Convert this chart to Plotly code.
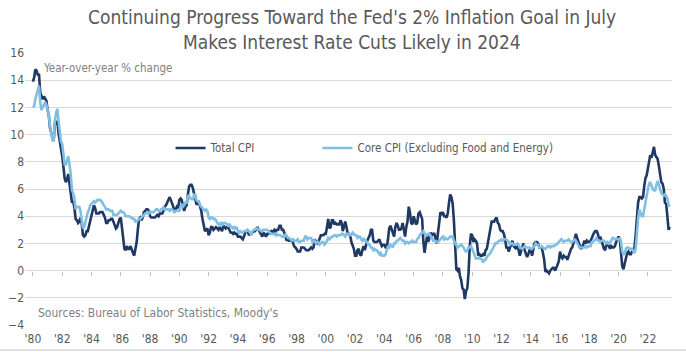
import plotly.graph_objects as go
import pandas as pd

# Year-over-year % change, monthly, Jan 1980 - Jul 2023
total_cpi = [
    13.9, 14.2, 14.8, 14.7, 14.4, 14.4, 13.1, 12.9, 12.6, 12.8, 12.6, 12.5,  # 1980
    11.8, 11.4, 10.5, 10.0, 9.8, 9.6, 10.8, 10.8, 11.0, 10.1, 9.6, 8.9,  # 1981
    8.4, 7.6, 6.8, 6.5, 6.7, 7.1, 6.4, 5.9, 5.0, 5.1, 4.6, 3.8,  # 1982
    3.7, 3.5, 3.6, 3.9, 3.5, 2.6, 2.5, 2.6, 2.9, 2.9, 3.3, 3.8,  # 1983
    4.2, 4.6, 4.8, 4.6, 4.2, 4.2, 4.2, 4.3, 4.3, 4.3, 4.1, 3.9,  # 1984
    3.5, 3.5, 3.7, 3.7, 3.8, 3.8, 3.6, 3.3, 3.1, 3.2, 3.5, 3.8,  # 1985
    3.9, 3.1, 2.2, 1.6, 1.5, 1.8, 1.6, 1.6, 1.8, 1.5, 1.3, 1.1,  # 1986
    1.5, 2.1, 3.0, 3.8, 3.9, 3.7, 3.9, 4.3, 4.4, 4.5, 4.5, 4.4,  # 1987
    4.0, 3.9, 3.9, 3.9, 3.9, 4.0, 4.1, 4.0, 4.2, 4.2, 4.2, 4.4,  # 1988
    4.7, 4.8, 5.0, 5.1, 5.4, 5.2, 5.0, 4.7, 4.3, 4.5, 4.7, 4.6,  # 1989
    5.2, 5.3, 5.2, 4.7, 4.4, 4.7, 4.8, 5.6, 6.2, 6.3, 6.3, 6.1,  # 1990
    5.7, 5.3, 4.9, 4.9, 5.0, 4.7, 4.4, 3.8, 3.4, 2.9, 3.0, 3.1,  # 1991
    2.6, 2.8, 3.2, 3.2, 3.0, 3.1, 3.2, 3.1, 3.0, 3.2, 3.0, 2.9,  # 1992
    3.3, 3.2, 3.1, 3.2, 3.2, 3.0, 2.8, 2.8, 2.7, 2.8, 2.7, 2.7,  # 1993
    2.5, 2.5, 2.5, 2.4, 2.3, 2.5, 2.8, 2.9, 3.0, 2.6, 2.7, 2.7,  # 1994
    2.8, 2.9, 2.9, 3.1, 3.2, 3.0, 2.8, 2.6, 2.5, 2.8, 2.6, 2.5,  # 1995
    2.7, 2.7, 2.8, 2.9, 2.9, 2.8, 3.0, 2.9, 3.0, 3.0, 3.3, 3.3,  # 1996
    3.0, 3.0, 2.8, 2.5, 2.2, 2.3, 2.2, 2.2, 2.2, 2.1, 1.8, 1.7,  # 1997
    1.6, 1.4, 1.4, 1.4, 1.7, 1.7, 1.7, 1.6, 1.5, 1.5, 1.5, 1.6,  # 1998
    1.7, 1.6, 1.7, 2.3, 2.1, 2.0, 2.1, 2.3, 2.6, 2.6, 2.6, 2.7,  # 1999
    2.7, 3.2, 3.8, 3.1, 3.2, 3.7, 3.7, 3.4, 3.5, 3.4, 3.4, 3.4,  # 2000
    3.7, 3.5, 2.9, 3.3, 3.6, 3.2, 2.7, 2.7, 2.6, 2.1, 1.9, 1.6,  # 2001
    1.1, 1.1, 1.5, 1.6, 1.2, 1.1, 1.5, 1.8, 1.5, 2.0, 2.2, 2.4,  # 2002
    2.6, 3.0, 3.0, 2.2, 2.1, 2.1, 2.1, 2.2, 2.3, 2.0, 1.8, 1.9,  # 2003
    1.9, 1.7, 1.7, 2.3, 3.1, 3.3, 3.0, 2.7, 2.5, 3.2, 3.5, 3.3,  # 2004
    3.0, 3.0, 3.1, 3.5, 2.8, 2.5, 3.2, 3.6, 4.7, 4.3, 3.5, 3.4,  # 2005
    4.0, 3.6, 3.4, 3.5, 4.2, 4.3, 4.1, 3.8, 2.1, 1.3, 2.0, 2.5,  # 2006
    2.1, 2.4, 2.8, 2.6, 2.7, 2.7, 2.4, 2.0, 2.8, 3.5, 4.3, 4.1,  # 2007
    4.3, 4.0, 4.0, 3.9, 4.2, 5.0, 5.6, 5.4, 4.9, 3.7, 1.1, 0.1,  # 2008
    0.0, 0.2, -0.4, -0.7, -1.3, -1.4, -2.1, -1.5, -1.3, -0.2, 1.8, 2.7,  # 2009
    2.6, 2.1, 2.3, 2.2, 2.0, 1.1, 1.2, 1.1, 1.1, 1.2, 1.1, 1.5,  # 2010
    1.6, 2.1, 2.7, 3.2, 3.6, 3.6, 3.6, 3.8, 3.9, 3.5, 3.4, 3.0,  # 2011
    2.9, 2.9, 2.7, 2.3, 1.7, 1.7, 1.4, 1.7, 2.0, 2.2, 1.8, 1.7,  # 2012
    1.6, 2.0, 1.5, 1.1, 1.4, 1.8, 2.0, 1.5, 1.2, 1.0, 1.2, 1.5,  # 2013
    1.6, 1.1, 1.5, 2.0, 2.1, 2.1, 2.0, 1.7, 1.7, 1.7, 1.3, 0.8,  # 2014
    -0.1, 0.0, -0.1, -0.2, 0.0, 0.1, 0.2, 0.2, 0.0, 0.2, 0.5, 0.7,  # 2015
    1.4, 1.0, 0.9, 1.1, 1.0, 1.0, 0.8, 1.1, 1.5, 1.6, 1.7, 2.1,  # 2016
    2.5, 2.7, 2.4, 2.2, 1.9, 1.6, 1.7, 1.9, 2.2, 2.0, 2.2, 2.1,  # 2017
    2.1, 2.2, 2.4, 2.5, 2.8, 2.9, 2.9, 2.7, 2.3, 2.5, 2.2, 1.9,  # 2018
    1.6, 1.5, 1.9, 2.0, 1.8, 1.6, 1.8, 1.7, 1.7, 1.8, 2.1, 2.3,  # 2019
    2.5, 2.3, 1.5, 0.3, 0.1, 0.6, 1.0, 1.3, 1.4, 1.2, 1.2, 1.4,  # 2020
    1.4, 1.7, 2.6, 4.2, 5.0, 5.4, 5.4, 5.3, 5.4, 6.2, 6.8, 7.0,  # 2021
    7.5, 7.9, 8.5, 8.3, 8.6, 9.1, 8.5, 8.3, 8.2, 7.7, 7.1, 6.5,  # 2022
    6.4, 6.0, 5.0, 4.9, 4.0, 3.0, 3.2,  # 2023
]

core_cpi = [
    12.0, 12.1, 12.6, 13.0, 13.3, 13.6, 12.4, 11.8, 12.0, 12.2, 12.4, 12.2,  # 1980
    11.8, 11.4, 10.7, 10.0, 9.6, 9.5, 11.0, 11.6, 11.9, 11.0, 10.3, 9.5,  # 1981
    9.3, 8.6, 7.8, 7.8, 8.1, 8.4, 7.8, 7.1, 5.9, 5.7, 5.3, 4.5,  # 1982
    4.7, 4.7, 4.7, 4.4, 3.6, 3.1, 3.2, 3.6, 4.0, 4.3, 4.5, 4.8,  # 1983
    4.9, 5.0, 5.1, 5.0, 5.1, 5.2, 5.2, 5.2, 5.1, 5.0, 4.8, 4.7,  # 1984
    4.5, 4.5, 4.5, 4.4, 4.4, 4.4, 4.1, 4.1, 4.1, 4.1, 4.2, 4.3,  # 1985
    4.4, 4.3, 4.3, 4.2, 4.0, 4.0, 4.0, 4.0, 3.9, 3.9, 3.8, 3.8,  # 1986
    3.6, 3.6, 3.7, 3.8, 3.8, 3.9, 4.0, 4.1, 4.2, 4.2, 4.3, 4.2,  # 1987
    4.3, 4.3, 4.3, 4.3, 4.4, 4.5, 4.5, 4.4, 4.4, 4.5, 4.5, 4.7,  # 1988
    4.5, 4.5, 4.5, 4.5, 4.4, 4.5, 4.5, 4.4, 4.3, 4.4, 4.4, 4.4,  # 1989
    4.4, 4.7, 4.9, 4.7, 4.8, 5.0, 5.0, 5.5, 5.5, 5.3, 5.3, 5.2,  # 1990
    5.6, 5.6, 5.2, 5.1, 5.1, 4.8, 4.7, 4.6, 4.5, 4.4, 4.5, 4.4,  # 1991
    3.9, 3.8, 3.9, 3.9, 3.8, 3.8, 3.7, 3.5, 3.4, 3.4, 3.5, 3.3,  # 1992
    3.5, 3.5, 3.5, 3.4, 3.3, 3.4, 3.3, 3.2, 3.1, 3.2, 3.1, 3.2,  # 1993
    2.9, 2.8, 2.9, 2.8, 2.8, 2.9, 2.9, 2.9, 3.0, 2.9, 2.8, 2.6,  # 1994
    2.9, 3.0, 3.0, 3.1, 3.1, 3.0, 3.0, 2.9, 2.9, 3.0, 3.0, 3.0,  # 1995
    3.0, 2.9, 2.8, 2.7, 2.7, 2.7, 2.7, 2.6, 2.7, 2.6, 2.6, 2.6,  # 1996
    2.5, 2.5, 2.5, 2.7, 2.5, 2.4, 2.4, 2.3, 2.2, 2.3, 2.2, 2.2,  # 1997
    2.2, 2.3, 2.1, 2.1, 2.2, 2.2, 2.2, 2.5, 2.5, 2.3, 2.4, 2.4,  # 1998
    2.4, 2.1, 2.1, 2.2, 2.0, 2.1, 2.1, 1.9, 2.0, 2.1, 2.1, 1.9,  # 1999
    2.0, 2.2, 2.4, 2.3, 2.4, 2.5, 2.5, 2.6, 2.6, 2.5, 2.6, 2.6,  # 2000
    2.6, 2.7, 2.7, 2.6, 2.5, 2.7, 2.7, 2.7, 2.6, 2.6, 2.8, 2.7,  # 2001
    2.6, 2.6, 2.4, 2.5, 2.5, 2.3, 2.2, 2.4, 2.2, 2.2, 2.0, 1.9,  # 2002
    1.9, 1.7, 1.7, 1.5, 1.6, 1.5, 1.5, 1.3, 1.2, 1.3, 1.1, 1.1,  # 2003
    1.1, 1.2, 1.6, 1.8, 1.7, 1.9, 1.8, 1.7, 2.0, 2.0, 2.2, 2.2,  # 2004
    2.3, 2.4, 2.3, 2.2, 2.2, 2.0, 2.1, 2.1, 2.0, 2.1, 2.1, 2.2,  # 2005
    2.1, 2.1, 2.1, 2.3, 2.4, 2.6, 2.7, 2.8, 2.9, 2.7, 2.6, 2.6,  # 2006
    2.7, 2.7, 2.5, 2.3, 2.2, 2.2, 2.2, 2.1, 2.1, 2.2, 2.3, 2.4,  # 2007
    2.5, 2.3, 2.4, 2.3, 2.3, 2.4, 2.5, 2.5, 2.5, 2.2, 2.0, 1.8,  # 2008
    1.7, 1.8, 1.8, 1.9, 1.8, 1.7, 1.5, 1.4, 1.5, 1.7, 1.7, 1.8,  # 2009
    1.6, 1.3, 1.1, 0.9, 0.9, 0.9, 0.9, 0.9, 0.8, 0.6, 0.8, 0.8,  # 2010
    1.0, 1.1, 1.2, 1.3, 1.5, 1.6, 1.8, 2.0, 2.0, 2.1, 2.2, 2.2,  # 2011
    2.3, 2.2, 2.3, 2.3, 2.3, 2.2, 2.1, 1.9, 2.0, 2.0, 1.9, 1.9,  # 2012
    1.9, 2.0, 1.9, 1.7, 1.7, 1.6, 1.7, 1.8, 1.7, 1.7, 1.7, 1.7,  # 2013
    1.6, 1.6, 1.7, 1.8, 2.0, 1.9, 1.9, 1.7, 1.7, 1.8, 1.7, 1.6,  # 2014
    1.6, 1.7, 1.8, 1.8, 1.7, 1.8, 1.8, 1.8, 1.9, 1.9, 2.0, 2.1,  # 2015
    2.2, 2.3, 2.2, 2.1, 2.2, 2.2, 2.2, 2.3, 2.2, 2.1, 2.1, 2.2,  # 2016
    2.3, 2.2, 2.0, 1.9, 1.7, 1.7, 1.7, 1.7, 1.7, 1.8, 1.7, 1.8,  # 2017
    1.8, 1.8, 2.1, 2.1, 2.2, 2.3, 2.4, 2.2, 2.2, 2.1, 2.2, 2.2,  # 2018
    2.2, 2.1, 2.0, 2.1, 2.0, 2.1, 2.2, 2.4, 2.4, 2.3, 2.3, 2.3,  # 2019
    2.3, 2.4, 2.1, 1.4, 1.2, 1.2, 1.6, 1.7, 1.7, 1.6, 1.6, 1.6,  # 2020
    1.4, 1.3, 1.6, 3.0, 3.8, 4.5, 4.3, 4.0, 4.0, 4.6, 4.9, 5.5,  # 2021
    6.0, 6.4, 6.5, 6.2, 6.0, 5.9, 5.9, 6.3, 6.6, 6.3, 6.0, 5.7,  # 2022
    5.6, 5.5, 5.6, 5.5, 5.3, 4.8, 4.7,  # 2023
]

start_month = "1980-01-01"
tick_years = list(range(1980, 2023, 2))
tick_labels = ["'" + str(y)[2:] for y in tick_years]
y_ticks = list(range(-4, 17, 2))
title_lines = ["Continuing Progress Toward the Fed's 2% Inflation Goal in July",
               "Makes Interest Rate Cuts Likely in 2024"]

dates = pd.date_range(start_month, periods=len(total_cpi), freq="MS")
tick_vals = [f"{y}-01-01" for y in tick_years]

DARK = "#1F3864"
LIGHT = "#80BFE3"
TXT = "#595959"
GRID = "#D9D9D9"
FONT = "Liberation Sans Narrow, DejaVu Sans Condensed, Arial Narrow, sans-serif"

fig = go.Figure()
fig.add_trace(go.Scatter(x=dates, y=total_cpi, mode="lines", name="Total CPI",
                         line=dict(color=DARK, width=2.6), legend="legend"))
fig.add_trace(go.Scatter(x=dates, y=core_cpi, mode="lines",
                         name="Core CPI (Excluding Food and Energy)",
                         line=dict(color=LIGHT, width=2.6), legend="legend2"))
# invisible helper trace so the tick-mark axis at y=0 is drawn
fig.add_trace(go.Scatter(x=[dates[0]], y=[None], xaxis="x2", yaxis="y",
                         mode="lines", showlegend=False, hoverinfo="skip"))

fig.update_layout(
    width=686, height=352,
    margin=dict(l=25, r=14, t=53, b=27, autoexpand=False),
    paper_bgcolor="white", plot_bgcolor="white",
    font=dict(family=FONT, size=12, color=TXT),
    xaxis=dict(type="date", range=["1979-06-17", "2023-08-25"],
               tickvals=tick_vals, ticktext=tick_labels, ticks="",
               ticklabelstandoff=5, automargin=False,
               showgrid=False, zeroline=False, showline=False,
               tickfont=dict(size=12, color=TXT)),
    xaxis2=dict(type="date", overlaying="x", matches="x", anchor="free", position=0.2,
                side="bottom", automargin=False,
                tickvals=tick_vals, ticks="outside", ticklen=4, tickcolor="#C0C0C0",
                showticklabels=False, showgrid=False, zeroline=False, showline=False),
    yaxis=dict(range=[-4, 16], tickvals=y_ticks, showgrid=True, gridcolor=GRID,
               gridwidth=1, zeroline=False, showline=False, automargin=False,
               tickfont=dict(size=12, color=TXT)),
    legend=dict(orientation="h", x=0.225, y=0.651, xanchor="left", yanchor="middle",
                bgcolor="rgba(0,0,0,0)", font=dict(size=11.5, color=TXT), itemwidth=30),
    legend2=dict(orientation="h", x=0.452, y=0.651, xanchor="left", yanchor="middle",
                 bgcolor="rgba(0,0,0,0)", font=dict(size=11.5, color=TXT), itemwidth=30),
    showlegend=True,
)

fig.add_annotation(text=title_lines[0], xref="paper", yref="paper",
                   x=0.505, y=1.132, xanchor="center", yanchor="middle", showarrow=False,
                   font=dict(family=FONT, size=19, color=TXT))
fig.add_annotation(text=title_lines[1], xref="paper", yref="paper",
                   x=0.505, y=1.040, xanchor="center", yanchor="middle", showarrow=False,
                   font=dict(family=FONT, size=19, color=TXT))
fig.add_annotation(text="Year-over-year % change", xref="paper", yref="paper",
                   x=0.025, y=0.945, xanchor="left", yanchor="middle", showarrow=False,
                   font=dict(size=11.5, color="#7F7F7F"))
fig.add_annotation(text="Sources: Bureau of Labor Statistics, Moody's", xref="paper", yref="paper",
                   x=0.017, y=0.044, xanchor="left", yanchor="middle", showarrow=False,
                   font=dict(size=12, color="#7F7F7F"))
fig.add_shape(type="line", xref="paper", yref="paper", x0=-0.04, x1=1.03,
              y0=-0.092, y1=-0.092, line=dict(color="#BFBFBF", width=1))

fig.write_html("out.html")
